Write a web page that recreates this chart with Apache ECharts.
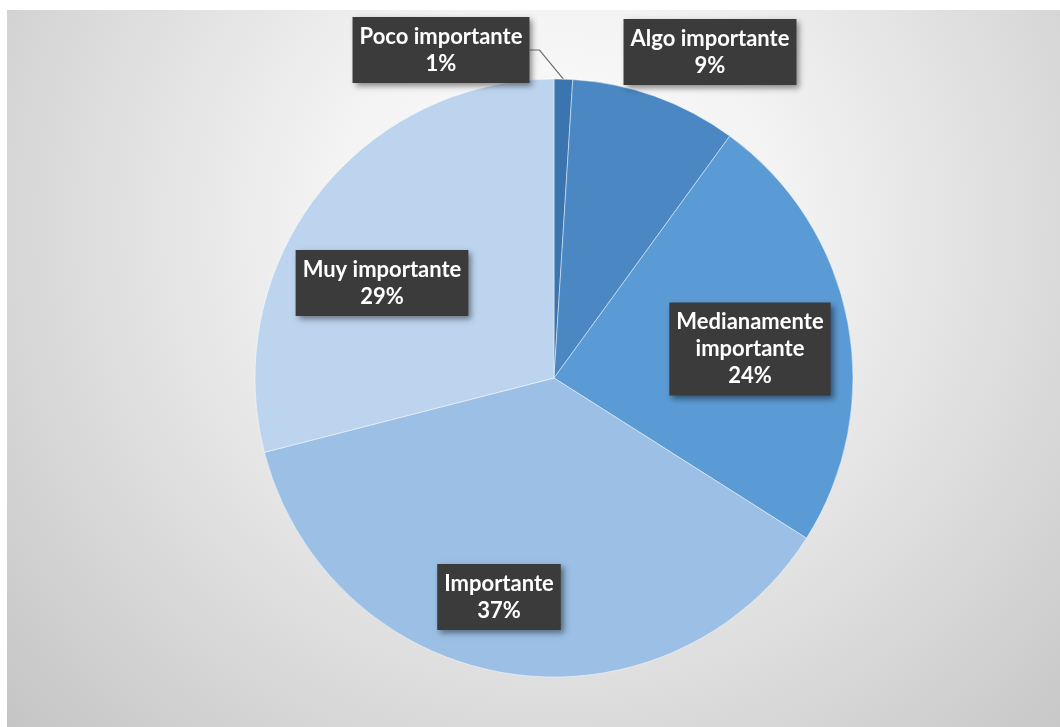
<!DOCTYPE html>
<html>
<head>
<meta charset="utf-8">
<style>
  html, body { margin: 0; padding: 0; background: #ffffff; }
  #chart { width: 1060px; height: 727px; }
</style>
<script src="https://cdn.jsdelivr.net/npm/echarts@6/dist/echarts.min.js"></script>
</head>
<body>
<div id="chart"></div>
<script>
// Importance ratings, clockwise from 12 o'clock
const categories = ['Poco importante', 'Algo importante', 'Medianamente\nimportante', 'Importante', 'Muy importante'];
const shares = [1, 9, 24, 37, 29];
const sliceColors = ['#3a75b0', '#4a87c3', '#5b9bd5', '#9bbfe5', '#bdd4ee'];

// Where each callout box sits (centre of the box, in pixels), same order as categories
const calloutCentres = [[441, 50], [710, 52], [750, 349], [499, 597], [382, 283]];

const chart = echarts.init(document.getElementById('chart'), null, { renderer: 'canvas' });

const pieData = categories.map((name, i) => ({
  name: name,
  value: shares[i],
  itemStyle: { color: sliceColors[i] },
  label: i === 0 ? { position: 'outside' } : { position: 'inside' },
  labelLine: { show: i === 0 }
}));

chart.setOption({
  animation: false,
  backgroundColor: '#ffffff',
  graphic: [{
    type: 'rect',
    z: -10,
    silent: true,
    shape: { x: 7, y: 10, width: 1053, height: 717 },
    style: {
      fill: new echarts.graphic.RadialGradient(0.52, 0.3, 1.05, [
        { offset: 0, color: '#ffffff' },
        { offset: 0.3, color: '#f3f3f3' },
        { offset: 1, color: '#c4c4c4' }
      ])
    }
  }],
  series: [{
    type: 'pie',
    center: [554, 378],
    radius: [0, 299],
    startAngle: 90,
    clockwise: true,
    data: pieData,
    itemStyle: {
      borderColor: 'rgba(255,255,255,0.45)',
      borderWidth: 1
    },
    label: {
      show: true,
      formatter: p => p.name + '\n' + p.value + '%',
      color: '#ffffff',
      fontFamily: 'Lato, "Open Sans", sans-serif',
      fontWeight: 'bold',
      fontSize: 22,
      lineHeight: 27,
      align: 'center',
      backgroundColor: '#3b3b3b',
      padding: [6, 7, 6, 7],
      shadowColor: 'rgba(0,0,0,0.45)',
      shadowBlur: 6,
      shadowOffsetX: 3,
      shadowOffsetY: 3
    },
    labelLine: {
      lineStyle: { color: '#6e6e6e', width: 1.2 },
      length: 10,
      length2: 10
    },
    labelLayout: function (params) {
      const c = calloutCentres[params.dataIndex];
      return { x: c[0], y: c[1], align: 'center', verticalAlign: 'middle' };
    }
  }]
});
</script>
</body>
</html>
